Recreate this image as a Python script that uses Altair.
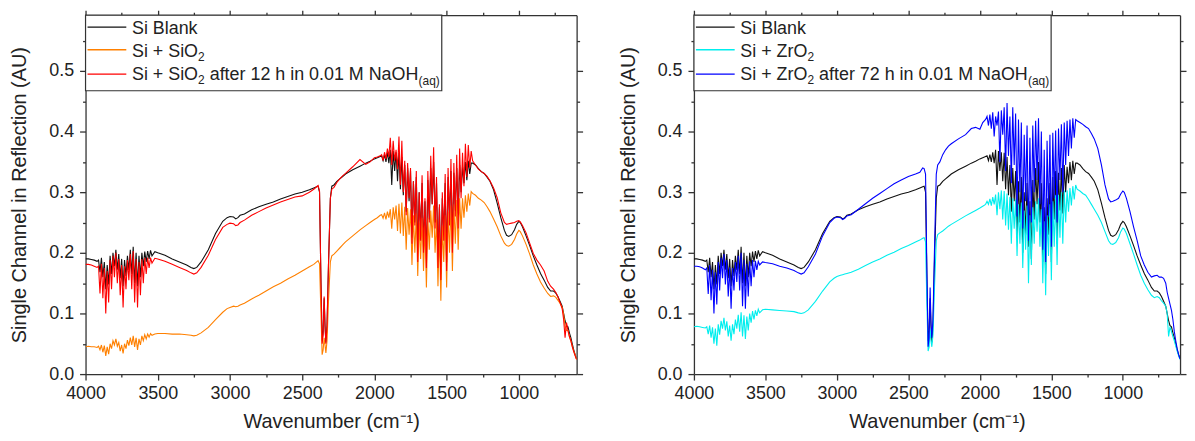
import altair as alt
import pandas as pd

# ---------------- data ----------------
WN = ([4000, 3980, 3960, 3940, 3920]
      + [3910, 3900, 3890, 3880, 3870, 3860, 3850, 3840, 3830, 3820,
         3810, 3800, 3790, 3780, 3770, 3760, 3750, 3740, 3730, 3720,
         3710, 3700, 3690, 3680, 3670, 3660, 3650, 3640, 3630, 3620,
         3610, 3600, 3590, 3580, 3570, 3560, 3550, 3540]
      + [3520, 3500, 3450, 3400, 3350, 3300, 3270, 3250, 3230, 3200,
         3150, 3100, 3050, 3020, 3000, 2975, 2960, 2945, 2930, 2900,
         2850, 2800, 2750, 2700, 2650, 2600, 2550, 2500, 2450, 2420,
         2400, 2390]
      + [2380, 2370, 2362, 2355, 2348, 2342, 2336, 2328, 2318, 2305, 2295, 2280]
      + [2260, 2240, 2220, 2200, 2150, 2100, 2060, 2030, 2000, 1980, 1960]
      + [1950, 1940, 1930, 1920, 1910, 1900, 1890, 1880, 1870, 1860,
         1850, 1840, 1830, 1820, 1810, 1800, 1790, 1780, 1770, 1760,
         1750, 1740, 1730, 1720, 1710, 1700, 1690, 1680, 1670, 1660,
         1650, 1640, 1630, 1620, 1610, 1600, 1590, 1580, 1570, 1560,
         1550, 1540, 1530, 1520, 1510, 1500, 1490, 1480, 1470, 1460,
         1450, 1440, 1430, 1420, 1410, 1400, 1390, 1380, 1370, 1360,
         1350, 1340, 1330]
      + [1320, 1300, 1280, 1260, 1240, 1220, 1200, 1175, 1150, 1125,
         1100, 1085, 1070, 1050, 1030, 1015, 1000, 990, 975, 950,
         925, 900, 875, 850, 825, 800, 780, 760, 745, 730,
         715, 700, 690, 680, 670, 660, 650, 640, 630, 620,
         610, 600])

SI_BLANK = ([0.190, 0.190, 0.189, 0.188, 0.186]
            + [0.188, 0.168, 0.192, 0.160, 0.185, 0.140, 0.180, 0.148, 0.195, 0.165,
               0.200, 0.178, 0.205, 0.172, 0.198, 0.158, 0.190, 0.145, 0.188, 0.162,
               0.195, 0.172, 0.205, 0.165, 0.210, 0.150, 0.200, 0.145, 0.195, 0.160,
               0.200, 0.178, 0.202, 0.185, 0.203, 0.190, 0.204, 0.195]
            + [0.202, 0.200, 0.196, 0.190, 0.185, 0.180, 0.176, 0.174, 0.176, 0.185,
               0.205, 0.232, 0.252, 0.258, 0.260, 0.259, 0.256, 0.258, 0.262, 0.264,
               0.271, 0.276, 0.280, 0.284, 0.289, 0.293, 0.297, 0.300, 0.304, 0.307,
               0.309, 0.310]
            + [0.300, 0.150, 0.055, 0.070, 0.125, 0.080, 0.052, 0.080, 0.180, 0.290, 0.310, 0.312]
            + [0.318, 0.322, 0.326, 0.330, 0.337, 0.343, 0.348, 0.351, 0.355, 0.357, 0.359]
            + [0.360, 0.352, 0.362, 0.350, 0.366, 0.348, 0.370, 0.312, 0.368, 0.335,
               0.366, 0.318, 0.365, 0.305, 0.358, 0.295, 0.345, 0.268, 0.340, 0.285,
               0.335, 0.225, 0.318, 0.250, 0.325, 0.200, 0.300, 0.230, 0.315, 0.210,
               0.285, 0.190, 0.320, 0.255, 0.340, 0.280, 0.350, 0.250, 0.315, 0.185,
               0.275, 0.165, 0.290, 0.230, 0.315, 0.185, 0.325, 0.255, 0.335, 0.215,
               0.332, 0.270, 0.340, 0.265, 0.345, 0.300, 0.342, 0.315, 0.350, 0.320,
               0.352, 0.330, 0.348]
            + [0.348, 0.345, 0.339, 0.334, 0.331, 0.325, 0.318, 0.304, 0.282, 0.258,
               0.237, 0.229, 0.227, 0.230, 0.238, 0.247, 0.252, 0.250, 0.243, 0.228,
               0.212, 0.195, 0.180, 0.166, 0.155, 0.143, 0.137, 0.137, 0.134, 0.128,
               0.120, 0.112, 0.100, 0.088, 0.080, 0.078, 0.068, 0.060, 0.050, 0.040,
               0.032, 0.025])

SI_SIO2 = ([0.045, 0.046, 0.045, 0.045, 0.044]
           + [0.046, 0.040, 0.048, 0.036, 0.047, 0.030, 0.045, 0.033, 0.050, 0.042,
              0.055, 0.048, 0.058, 0.046, 0.052, 0.038, 0.048, 0.034, 0.050, 0.042,
              0.056, 0.047, 0.060, 0.048, 0.063, 0.045, 0.060, 0.040, 0.058, 0.048,
              0.063, 0.055, 0.065, 0.058, 0.066, 0.061, 0.067, 0.064]
           + [0.066, 0.067, 0.067, 0.066, 0.066, 0.065, 0.064, 0.063, 0.064, 0.068,
              0.077, 0.090, 0.102, 0.108, 0.110, 0.112, 0.111, 0.112, 0.114, 0.117,
              0.124, 0.130, 0.137, 0.144, 0.150, 0.157, 0.163, 0.170, 0.177, 0.181,
              0.185, 0.187]
           + [0.182, 0.100, 0.032, 0.040, 0.060, 0.048, 0.035, 0.055, 0.120, 0.185, 0.195, 0.198]
           + [0.203, 0.208, 0.213, 0.218, 0.228, 0.238, 0.245, 0.250, 0.255, 0.258, 0.262]
           + [0.263, 0.257, 0.266, 0.255, 0.268, 0.258, 0.272, 0.240, 0.275, 0.255,
              0.278, 0.236, 0.281, 0.232, 0.283, 0.228, 0.276, 0.205, 0.274, 0.230,
              0.272, 0.180, 0.262, 0.200, 0.265, 0.162, 0.250, 0.190, 0.258, 0.170,
              0.245, 0.143, 0.258, 0.205, 0.270, 0.225, 0.278, 0.200, 0.255, 0.145,
              0.235, 0.121, 0.245, 0.185, 0.262, 0.143, 0.268, 0.200, 0.278, 0.170,
              0.280, 0.215, 0.287, 0.205, 0.290, 0.240, 0.290, 0.258, 0.295, 0.268,
              0.298, 0.278, 0.301]
           + [0.298, 0.295, 0.290, 0.287, 0.283, 0.276, 0.268, 0.256, 0.243, 0.228,
              0.216, 0.212, 0.211, 0.214, 0.222, 0.231, 0.237, 0.235, 0.228, 0.214,
              0.198, 0.180, 0.165, 0.152, 0.142, 0.133, 0.128, 0.129, 0.127, 0.122,
              0.117, 0.110, 0.098, 0.080, 0.072, 0.072, 0.062, 0.055, 0.046, 0.038,
              0.031, 0.024])

SI_SIO2_NAOH = ([0.181, 0.181, 0.180, 0.178, 0.176]
                + [0.178, 0.133, 0.182, 0.125, 0.175, 0.100, 0.170, 0.118, 0.188, 0.140,
                   0.195, 0.160, 0.200, 0.150, 0.190, 0.130, 0.180, 0.110, 0.178, 0.140,
                   0.188, 0.155, 0.198, 0.140, 0.203, 0.118, 0.190, 0.110, 0.185, 0.130,
                   0.190, 0.150, 0.192, 0.165, 0.192, 0.175, 0.192, 0.183]
                + [0.191, 0.190, 0.186, 0.181, 0.176, 0.171, 0.167, 0.165, 0.167, 0.176,
                   0.196, 0.222, 0.242, 0.247, 0.249, 0.248, 0.245, 0.246, 0.250, 0.254,
                   0.262, 0.268, 0.274, 0.279, 0.284, 0.288, 0.292, 0.294, 0.300, 0.305,
                   0.309, 0.311]
                + [0.302, 0.150, 0.050, 0.065, 0.128, 0.080, 0.050, 0.078, 0.180, 0.290, 0.305, 0.308]
                + [0.316, 0.322, 0.327, 0.331, 0.342, 0.354, 0.346, 0.350, 0.357, 0.358, 0.360]
                + [0.362, 0.352, 0.366, 0.355, 0.372, 0.358, 0.390, 0.345, 0.385, 0.352,
                   0.370, 0.338, 0.392, 0.312, 0.385, 0.300, 0.352, 0.262, 0.348, 0.290,
                   0.340, 0.215, 0.318, 0.245, 0.335, 0.185, 0.300, 0.220, 0.328, 0.200,
                   0.290, 0.175, 0.335, 0.250, 0.360, 0.280, 0.374, 0.240, 0.325, 0.175,
                   0.280, 0.155, 0.300, 0.220, 0.330, 0.170, 0.340, 0.245, 0.355, 0.200,
                   0.348, 0.260, 0.362, 0.240, 0.372, 0.290, 0.365, 0.310, 0.380, 0.325,
                   0.378, 0.340, 0.368]
                + [0.352, 0.345, 0.338, 0.334, 0.331, 0.326, 0.319, 0.307, 0.291, 0.266,
                   0.250, 0.247, 0.248, 0.249, 0.250, 0.252, 0.253, 0.251, 0.245, 0.233,
                   0.216, 0.199, 0.188, 0.180, 0.170, 0.153, 0.145, 0.140, 0.135, 0.128,
                   0.118, 0.108, 0.090, 0.060, 0.085, 0.072, 0.062, 0.055, 0.045, 0.037,
                   0.030, 0.024])

SI_ZRO2 = ([0.078, 0.079, 0.078, 0.077, 0.076]
           + [0.078, 0.066, 0.080, 0.060, 0.077, 0.050, 0.075, 0.047, 0.082, 0.065,
              0.088, 0.075, 0.093, 0.072, 0.087, 0.062, 0.080, 0.055, 0.082, 0.066,
              0.090, 0.075, 0.098, 0.070, 0.102, 0.062, 0.097, 0.058, 0.095, 0.072,
              0.100, 0.085, 0.104, 0.090, 0.105, 0.096, 0.107, 0.101]
           + [0.106, 0.107, 0.106, 0.105, 0.104, 0.103, 0.101, 0.100, 0.101, 0.106,
              0.120, 0.137, 0.152, 0.158, 0.161, 0.163, 0.164, 0.165, 0.166, 0.168,
              0.173, 0.179, 0.185, 0.190, 0.196, 0.201, 0.207, 0.212, 0.218, 0.221,
              0.224, 0.225]
           + [0.218, 0.110, 0.038, 0.045, 0.075, 0.055, 0.045, 0.065, 0.140, 0.220, 0.230, 0.233]
           + [0.236, 0.240, 0.244, 0.247, 0.254, 0.261, 0.266, 0.270, 0.274, 0.277, 0.280]
           + [0.285, 0.280, 0.289, 0.278, 0.292, 0.280, 0.296, 0.262, 0.300, 0.272,
              0.303, 0.255, 0.302, 0.245, 0.298, 0.238, 0.292, 0.215, 0.290, 0.240,
              0.288, 0.195, 0.280, 0.215, 0.283, 0.175, 0.270, 0.205, 0.278, 0.150,
              0.262, 0.180, 0.275, 0.215, 0.285, 0.235, 0.290, 0.210, 0.272, 0.150,
              0.252, 0.130, 0.262, 0.195, 0.280, 0.155, 0.285, 0.210, 0.295, 0.180,
              0.296, 0.225, 0.300, 0.215, 0.303, 0.250, 0.303, 0.268, 0.307, 0.278,
              0.310, 0.288, 0.312]
           + [0.305, 0.302, 0.298, 0.295, 0.288, 0.280, 0.272, 0.262, 0.250, 0.235,
              0.220, 0.215, 0.214, 0.217, 0.225, 0.235, 0.241, 0.239, 0.232, 0.215,
              0.198, 0.180, 0.163, 0.150, 0.139, 0.130, 0.126, 0.128, 0.126, 0.121,
              0.117, 0.112, 0.100, 0.062, 0.078, 0.070, 0.062, 0.055, 0.046, 0.038,
              0.030, 0.024])

SI_ZRO2_NAOH = ([0.178, 0.178, 0.177, 0.175, 0.172]
                + [0.175, 0.132, 0.180, 0.122, 0.172, 0.100, 0.168, 0.115, 0.185, 0.138,
                   0.192, 0.158, 0.198, 0.148, 0.188, 0.128, 0.176, 0.108, 0.175, 0.138,
                   0.185, 0.152, 0.195, 0.138, 0.200, 0.112, 0.188, 0.108, 0.182, 0.128,
                   0.186, 0.145, 0.188, 0.160, 0.187, 0.172, 0.186, 0.180]
                + [0.185, 0.184, 0.182, 0.178, 0.175, 0.171, 0.167, 0.165, 0.167, 0.177,
                   0.198, 0.228, 0.250, 0.257, 0.259, 0.258, 0.255, 0.257, 0.261, 0.263,
                   0.272, 0.281, 0.290, 0.298, 0.306, 0.314, 0.320, 0.326, 0.330, 0.333,
                   0.340, 0.339]
                + [0.330, 0.160, 0.045, 0.060, 0.143, 0.085, 0.060, 0.090, 0.200, 0.330, 0.345, 0.350]
                + [0.362, 0.370, 0.376, 0.380, 0.388, 0.395, 0.405, 0.407, 0.404, 0.415, 0.420]
                + [0.425, 0.410, 0.428, 0.405, 0.432, 0.392, 0.425, 0.410, 0.433, 0.350,
                   0.435, 0.395, 0.440, 0.335, 0.447, 0.360, 0.425, 0.315, 0.440, 0.345,
                   0.430, 0.260, 0.420, 0.300, 0.415, 0.240, 0.395, 0.285, 0.410, 0.220,
                   0.390, 0.250, 0.410, 0.300, 0.418, 0.320, 0.422, 0.280, 0.400, 0.205,
                   0.370, 0.185, 0.385, 0.260, 0.395, 0.210, 0.398, 0.290, 0.402, 0.250,
                   0.405, 0.320, 0.412, 0.300, 0.415, 0.345, 0.418, 0.360, 0.420, 0.372,
                   0.422, 0.390, 0.420]
                + [0.418, 0.415, 0.412, 0.408, 0.405, 0.397, 0.388, 0.372, 0.345, 0.312,
                   0.289, 0.284, 0.285, 0.287, 0.290, 0.297, 0.302, 0.300, 0.290, 0.268,
                   0.243, 0.220, 0.195, 0.180, 0.168, 0.160, 0.162, 0.163, 0.160, 0.160,
                   0.158, 0.150, 0.135, 0.125, 0.115, 0.105, 0.090, 0.070, 0.055, 0.042,
                   0.032, 0.025])

X_MAJOR = [4000, 3500, 3000, 2500, 2000, 1500, 1000]
X_MINOR = [3750, 3250, 2750, 2250, 1750, 1250, 750]
Y_MAJOR = [0.0, 0.1, 0.2, 0.3, 0.4, 0.5]
Y_MINOR = [0.05, 0.15, 0.25, 0.35, 0.45, 0.55]

X_TITLE = "Wavenumber (cm\u207b\u00b9)"
Y_TITLE = "Single Channel in Reflection (AU)"

LEFT_LEGEND = [
    ("#111111", [("Si Blank", False)]),
    ("#FF8000", [("Si + SiO", False), ("2", True)]),
    ("#FF0000", [("Si + SiO", False), ("2", True), (" after 12 h in 0.01 M NaOH", False), ("(aq)", True)]),
]
RIGHT_LEGEND = [
    ("#111111", [("Si Blank", False)]),
    ("#00EEEE", [("Si + ZrO", False), ("2", True)]),
    ("#0000FF", [("Si + ZrO", False), ("2", True), (" after 72 h in 0.01 M NaOH", False), ("(aq)", True)]),
]

# ---------------- styling ----------------
FONT = "Liberation Sans"
AX = "#333333"
TXT = "#222222"
H = 361
XSCALE = alt.Scale(domain=[600, 4000], reverse=True, nice=False, zero=False)
YSCALE = alt.Scale(domain=[0, 0.592], nice=False, zero=False)

# Arial / Liberation Sans advance widths (per 1000 em), for legend text layout
AW = {'S': 667, 'i': 222, ' ': 278, '+': 584, 'O': 778, 'Z': 611, 'r': 333, '2': 556,
      'a': 556, 'f': 278, 't': 278, 'e': 556, '1': 556, '7': 556, 'h': 556, 'n': 556,
      '0': 556, '.': 278, 'M': 833, 'N': 722, 'H': 722, '(': 333, ')': 333, 'q': 556,
      'B': 667, 'l': 222, 'k': 500}


def tw(s, size):
    return sum(AW.get(c, 556) for c in s) * size / 1000.0


def mk_axis(orient, values, size, labels=False, domain=False, fmt=None,
            title_pad=None, label_pad=None, extent=None):
    kw = dict(orient=orient, values=values, tickSize=size, tickColor=AX,
              tickWidth=1.3, grid=False, labels=labels, domain=domain, ticks=True)
    if domain:
        kw.update(domainColor=AX, domainWidth=1.3)
    if labels:
        kw.update(format=fmt, labelFont=FONT, labelFontSize=18, labelColor=TXT,
                  labelPadding=label_pad, labelFlush=False, labelOverlap=False)
    if title_pad is not None:
        kw.update(titleFont=FONT, titleFontSize=20, titleFontWeight="normal",
                  titleColor=TXT, titlePadding=title_pad)
    if extent is not None:
        kw.update(minExtent=extent, maxExtent=extent)
    return alt.Axis(**kw)


def line_layer(vals, color, xaxis, yaxis, xtitle=None, ytitle=None, opacity=1.0):
    df = pd.DataFrame({"wn": WN, "v": vals})
    return alt.Chart(df).mark_line(color=color, strokeWidth=1.1, opacity=opacity,
                                   clip=True).encode(
        x=alt.X("wn:Q", scale=XSCALE, axis=xaxis, title=xtitle),
        y=alt.Y("v:Q", scale=YSCALE, axis=yaxis, title=ytitle),
    )


def legend_layers(rows):
    one = pd.DataFrame({"k": [0]})
    x0 = 46.7
    base = [19.3, 42.0, 65.3]
    sw_y = [12.0, 34.7, 59.3]
    widths = []
    layers = []
    texts = []
    for i, (color, segs) in enumerate(rows):
        x = x0
        for s, sub in segs:
            size = 12 if sub else 18
            dy = (4.5 if s == "(aq)" else 4.0) if sub else 0.0
            lead = len(s) - len(s.lstrip(" "))
            x += tw(s[:lead], size)
            body = s.lstrip(" ")
            texts.append(alt.Chart(one).mark_text(
                text=body, align="left", baseline="alphabetic", font=FONT,
                fontSize=size, color=TXT).encode(
                x=alt.value(x), y=alt.value(base[i] + dy)))
            x += tw(body, size)
        widths.append(x)
        layers.append(alt.Chart(one).mark_rule(color=color, strokeWidth=1.4).encode(
            x=alt.value(2), x2=alt.value(41), y=alt.value(sw_y[i])))
    box_w = max(widths) + 2
    box = alt.Chart(one).mark_rect(fill="white", stroke=AX, strokeWidth=1.2).encode(
        x=alt.value(0), x2=alt.value(box_w), y=alt.value(0), y2=alt.value(76))
    return [box] + layers + texts


def panel(series, legend_rows, width, right_extent):
    (v1, c1), (v2, c2), (v3, c3) = series
    l1 = line_layer(v1, c1,
                    mk_axis("bottom", X_MAJOR, 6, labels=True, domain=True, fmt="d",
                            title_pad=9, label_pad=5),
                    mk_axis("left", Y_MAJOR, 6, labels=True, domain=True, fmt=".1f",
                            title_pad=19, label_pad=6, extent=37),
                    xtitle=X_TITLE, ytitle=Y_TITLE)
    l2 = line_layer(v2, c2, mk_axis("bottom", X_MINOR, 3),
                    mk_axis("left", Y_MINOR, 3, extent=37))
    l3 = line_layer(v3, c3, mk_axis("top", X_MAJOR, 5, domain=True, extent=5),
                    mk_axis("right", Y_MAJOR, 6, domain=True, extent=right_extent))
    l4 = line_layer(v1, c1, mk_axis("top", X_MINOR, 3, extent=5),
                    mk_axis("right", Y_MINOR, 3, extent=right_extent),
                    opacity=0.0)
    return alt.layer(l1, l2, l3, l4, *legend_layers(legend_rows)).resolve_axis(
        x="independent", y="independent").properties(width=width, height=H)


left = panel([(SI_BLANK, "#111111"), (SI_SIO2, "#FF8000"), (SI_SIO2_NAOH, "#FF0000")],
             LEFT_LEGEND, 494, 6)
right = panel([(SI_BLANK, "#111111"), (SI_ZRO2, "#00EEEE"), (SI_ZRO2_NAOH, "#0000FF")],
              RIGHT_LEGEND, 489, 0)

chart = alt.hconcat(left, right, spacing=35).properties(
    padding={"left": 2, "top": 0, "right": 0, "bottom": 0},
    background="white").configure_view(stroke=None)

chart.save("out.html", embed_options={"renderer": "svg", "actions": False})
